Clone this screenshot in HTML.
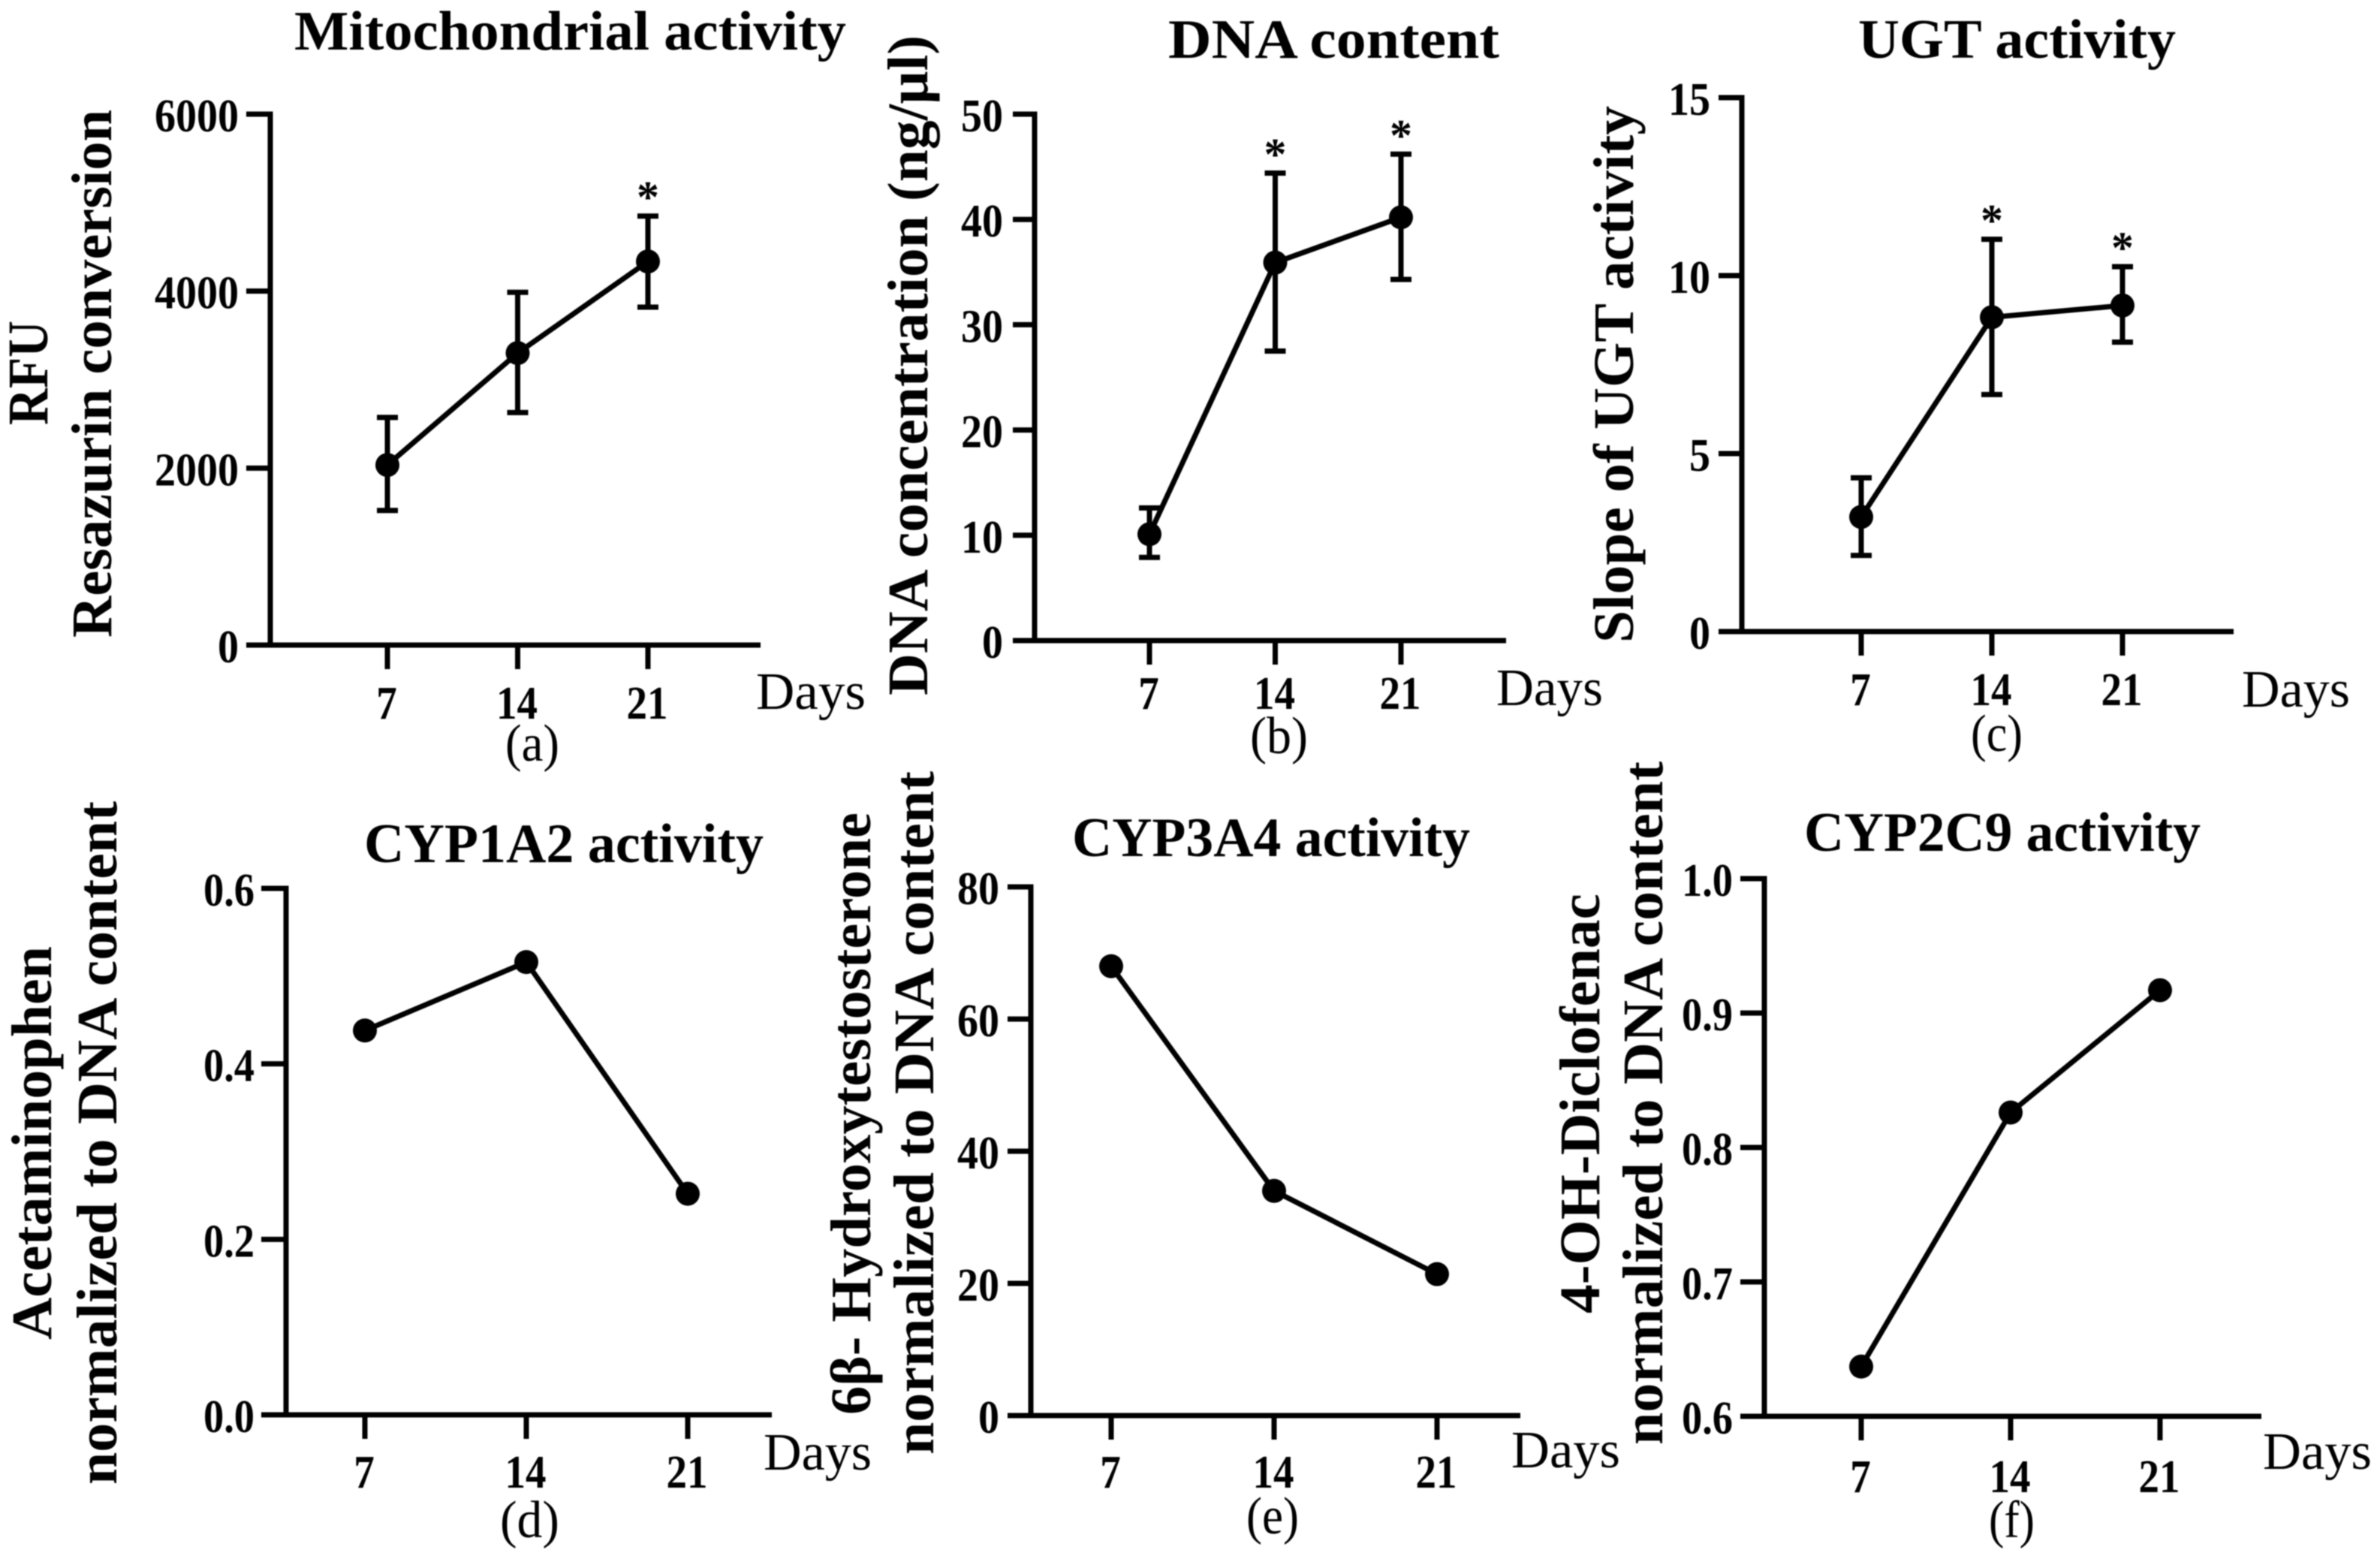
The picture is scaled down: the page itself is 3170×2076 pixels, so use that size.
<!DOCTYPE html>
<html lang="en">
<head>
<meta charset="utf-8">
<title>Hepatic activity panels</title>
<style>
html,body{margin:0;padding:0;background:#fff;}
#figure{display:block;width:3170px;height:2076px;filter:blur(0.9px);}
text{font-family:"Liberation Serif",serif;fill:#000;}
.t{font-weight:bold;font-size:74px;}
.yl{font-weight:bold;font-size:76px;}
.d{font-size:70px;}
.p{font-size:70px;}
.tick{font-weight:bold;font-size:62px;}
.star{font-weight:bold;font-size:60px;}
</style>
</head>
<body>
<svg id="figure" xmlns="http://www.w3.org/2000/svg" width="3170" height="2076" viewBox="0 0 3170 2076">
<rect x="0" y="0" width="3170" height="2076" fill="#fff"/>

<g id="panel-a">
<text class="t" x="392" y="66" textLength="735" lengthAdjust="spacingAndGlyphs">Mitochondrial activity</text>
<text class="yl" transform="translate(63,566) rotate(-90)" textLength="139" lengthAdjust="spacingAndGlyphs">RFU</text>
<text class="yl" transform="translate(148,849) rotate(-90)" textLength="703" lengthAdjust="spacingAndGlyphs">Resazurin conversion</text>
<text class="d" x="1007" y="944" textLength="146" lengthAdjust="spacingAndGlyphs">Days</text>
<text class="p" x="673" y="1013" textLength="72" lengthAdjust="spacingAndGlyphs">(a)</text>
</g>

<g id="panel-b">
<text class="t" x="1556" y="77" textLength="441" lengthAdjust="spacingAndGlyphs">DNA content</text>
<text class="yl" transform="translate(1235,926) rotate(-90)" textLength="879" lengthAdjust="spacingAndGlyphs">DNA concentration (ng/µl)</text>
<text class="d" x="1993" y="939" textLength="142" lengthAdjust="spacingAndGlyphs">Days</text>
<text class="p" x="1665" y="1003" textLength="77" lengthAdjust="spacingAndGlyphs">(b)</text>
</g>

<g id="panel-c">
<text class="t" x="2475" y="77" textLength="423" lengthAdjust="spacingAndGlyphs">UGT activity</text>
<text class="yl" transform="translate(2175,856) rotate(-90)" textLength="715" lengthAdjust="spacingAndGlyphs">Slope of UGT activity</text>
<text class="d" x="2986" y="941" textLength="144" lengthAdjust="spacingAndGlyphs">Days</text>
<text class="p" x="2625" y="1000" textLength="69" lengthAdjust="spacingAndGlyphs">(c)</text>
</g>

<g id="panel-d">
<text class="t" x="485" y="1148" textLength="532" lengthAdjust="spacingAndGlyphs">CYP1A2 activity</text>
<text class="yl" transform="translate(68,1784) rotate(-90)" textLength="524" lengthAdjust="spacingAndGlyphs">Acetaminophen</text>
<text class="yl" transform="translate(155,1977) rotate(-90)" textLength="910" lengthAdjust="spacingAndGlyphs">normalized to DNA content</text>
<text class="d" x="1017" y="1957" textLength="144" lengthAdjust="spacingAndGlyphs">Days</text>
<text class="p" x="666" y="2047" textLength="79" lengthAdjust="spacingAndGlyphs">(d)</text>
</g>

<g id="panel-e">
<text class="t" x="1428" y="1140" textLength="530" lengthAdjust="spacingAndGlyphs">CYP3A4 activity</text>
<text class="yl" transform="translate(1159,1884) rotate(-90)" textLength="802" lengthAdjust="spacingAndGlyphs">6β- Hydroxytestosterone</text>
<text class="yl" transform="translate(1243,1937) rotate(-90)" textLength="910" lengthAdjust="spacingAndGlyphs">normalized to DNA content</text>
<text class="d" x="2013" y="1954" textLength="145" lengthAdjust="spacingAndGlyphs">Days</text>
<text class="p" x="1660" y="2042" textLength="70" lengthAdjust="spacingAndGlyphs">(e)</text>
</g>

<g id="panel-f">
<text class="t" x="2403" y="1133" textLength="528" lengthAdjust="spacingAndGlyphs">CYP2C9 activity</text>
<text class="yl" transform="translate(2130,1749) rotate(-90)" textLength="559" lengthAdjust="spacingAndGlyphs">4-OH-Diclofenac</text>
<text class="yl" transform="translate(2214,1924) rotate(-90)" textLength="910" lengthAdjust="spacingAndGlyphs">normalized to DNA content</text>
<text class="d" x="3014" y="1956" textLength="145" lengthAdjust="spacingAndGlyphs">Days</text>
<text class="p" x="2649" y="2047" textLength="61" lengthAdjust="spacingAndGlyphs">(f)</text>
</g>
</svg>

<script>
// ---- data ----
const days = [7, 14, 21];

const mitoTicks = ["0", "2000", "4000", "6000"];
const mitoMeans = [2035, 3300, 4335];
const mitoHigh = [2572, 3987, 4848];
const mitoLow = [1521, 2628, 3819];
const mitoStars = [false, false, true];

const dnaTicks = ["0", "10", "20", "30", "40", "50"];
const dnaMeans = [10.1, 35.9, 40.2];
const dnaHigh = [12.6, 44.4, 46.2];
const dnaLow = [7.9, 27.5, 34.3];
const dnaStars = [false, true, true];

const ugtTicks = ["0", "5", "10", "15"];
const ugtMeans = [3.22, 8.83, 9.16];
const ugtHigh = [4.32, 11.02, 10.25];
const ugtLow = [2.14, 6.66, 8.13];
const ugtStars = [false, true, true];

const cyp1Ticks = ["0.0", "0.2", "0.4", "0.6"];
const cyp1Means = [0.438, 0.516, 0.252];

const cyp3Ticks = ["0", "20", "40", "60", "80"];
const cyp3Means = [68.0, 34.0, 21.4];

const cyp2Ticks = ["0.6", "0.7", "0.8", "0.9", "1.0"];
const cyp2Means = [0.637, 0.826, 0.917];

// ---- panel geometry ----
const panels = [
  {id:'panel-a', axisX:360, left:328, right:1013, top:152, bottom:859, x7:516, x21:863, labelY:957, ticks:mitoTicks, means:mitoMeans, high:mitoHigh, low:mitoLow, stars:mitoStars},
  {id:'panel-b', axisX:1378, left:1349, right:2006, top:152, bottom:853, x7:1531, x21:1866, labelY:944, ticks:dnaTicks, means:dnaMeans, high:dnaHigh, low:dnaLow, stars:dnaStars},
  {id:'panel-c', axisX:2320, left:2289, right:2975, top:130, bottom:841, x7:2479, x21:2827, labelY:939, ticks:ugtTicks, means:ugtMeans, high:ugtHigh, low:ugtLow, stars:ugtStars},
  {id:'panel-d', axisX:381, left:348, right:1028, top:1183, bottom:1884, x7:486, x21:916, labelY:1981, ticks:cyp1Ticks, means:cyp1Means},
  {id:'panel-e', axisX:1373, left:1342, right:2025, top:1181, bottom:1885, x7:1480, x21:1914, labelY:1981, ticks:cyp3Ticks, means:cyp3Means},
  {id:'panel-f', axisX:2350, left:2318, right:3012, top:1170, bottom:1886, x7:2479, x21:2877, labelY:1987, ticks:cyp2Ticks, means:cyp2Means}
];

const SVG_NS = 'http://www.w3.org/2000/svg';
const STROKE = 7;

function make(parent, tag, attrs) {
  const el = document.createElementNS(SVG_NS, tag);
  Object.keys(attrs).forEach(function (k) { el.setAttribute(k, attrs[k]); });
  parent.appendChild(el);
  return el;
}

function drawPanel(p) {
  const g = document.getElementById(p.id);
  const values = p.ticks.map(Number);
  const yMin = Math.min.apply(null, values);
  const yMax = Math.max.apply(null, values);
  const yScale = function (v) { return p.bottom - (v - yMin) / (yMax - yMin) * (p.bottom - p.top); };
  const xScale = function (d) { return p.x7 + (d - days[0]) / (days[days.length - 1] - days[0]) * (p.x21 - p.x7); };
  const lineStyle = {stroke:'#000', 'stroke-width':STROKE, fill:'none'};

  // axes
  const yAxis = make(g, 'line', Object.assign({x1:p.axisX, y1:p.top - STROKE / 2, x2:p.axisX, y2:p.bottom + STROKE / 2}, lineStyle));
  
  
  const xAxis = make(g, 'line', Object.assign({x1:p.left, y1:p.bottom, x2:p.right, y2:p.bottom}, lineStyle));
  
  

  // y ticks
  p.ticks.forEach(function (label) {
    const y = yScale(Number(label));
    const tick = make(g, 'line', Object.assign({x1:p.left, y1:y, x2:p.axisX, y2:y}, lineStyle));
    
    
    const text = make(g, 'text', {x:p.axisX - 42, y:y + 23, 'text-anchor':'end', 'class':'tick', textLength:label.replace('.', '').length * 28 + (label.indexOf('.') >= 0 ? 12 : 0), lengthAdjust:'spacingAndGlyphs'});
    
    
    text.textContent = label;
  });

  // x ticks
  days.forEach(function (d) {
    const x = xScale(d);
    const tick = make(g, 'line', Object.assign({x1:x, y1:p.bottom, x2:x, y2:p.bottom + 32}, lineStyle));
    
    
    const label = String(d);
    const text = make(g, 'text', {x:x - 1, y:p.labelY, 'text-anchor':'middle', 'class':'tick', textLength:label.length * 27.5, lengthAdjust:'spacingAndGlyphs'});
    
    
    text.textContent = label;
  });

  // error bars
  if (p.high) {
    days.forEach(function (d, i) {
      const x = xScale(d);
      const hi = yScale(p.high[i]);
      const lo = yScale(p.low[i]);
      const bar = make(g, 'path', Object.assign({d:'M' + (x - 14) + ' ' + hi + 'H' + (x + 14) + 'M' + x + ' ' + hi + 'V' + lo + 'M' + (x - 14) + ' ' + lo + 'H' + (x + 14)}, lineStyle));
      
      
      if (p.stars[i]) {
        const star = make(g, 'text', {x:x, y:hi - 5, 'text-anchor':'middle', 'class':'star'});
        
        
        star.textContent = '*';
      }
    });
  }

  // series line
  const pts = days.map(function (d, i) { return xScale(d) + ',' + yScale(p.means[i]); }).join(' ');
  const line = make(g, 'polyline', Object.assign({points:pts, 'stroke-linejoin':'round'}, lineStyle));
  
  

  // points
  days.forEach(function (d, i) {
    const dot = make(g, 'circle', {cx:xScale(d), cy:yScale(p.means[i]), r:16, fill:'#000'});
    
    
  });
}

panels.forEach(drawPanel);
</script>
</body>
</html>
